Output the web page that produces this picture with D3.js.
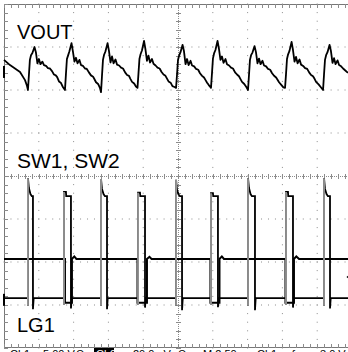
<!DOCTYPE html>
<html>
<head>
<meta charset="utf-8">
<script src="https://cdn.jsdelivr.net/npm/d3@7"></script>
<style>
  body { margin: 0; background: #fff; overflow: hidden; }
  svg { display: block; }
  text { font-family: "Liberation Sans", Arial, sans-serif; }
</style>
</head>
<body>
<div id="chart"></div>
<script>
// time in microseconds (2.50 us/div), levels in screen divisions (8 div tall)
const timeDomain = [0, 25]
const divDomain = [-4, 4]

// Ch2 output ripple (VOUT)
const voutTrace = [
    [0, 2.70], [0.43, 2.58], [1.15, 2.42], [1.51, 2.23], [1.65, 2.10],
    [1.72, 2.00], [1.79, 2.35], [1.86, 2.70], [1.94, 2.81], [2.04, 2.86], [2.19, 3.00], [2.29, 2.88], [2.40, 2.62], [2.51, 2.72], [2.62, 2.60], [2.76, 2.66], [2.87, 2.58], [3.02, 2.56], [3.16, 2.51], [3.30, 2.50], [3.45, 2.44], [3.59, 2.36], [3.72, 2.34], [3.82, 2.30], [3.95, 2.20], [4.08, 2.17], [4.23, 2.07],
    [4.38, 2.00], [4.45, 2.37], [4.52, 2.72], [4.60, 2.80], [4.70, 2.90], [4.85, 3.09], [4.95, 2.90], [5.06, 2.66], [5.17, 2.75], [5.28, 2.62], [5.42, 2.70], [5.53, 2.58], [5.68, 2.56], [5.82, 2.50], [5.95, 2.49], [6.10, 2.41], [6.25, 2.34], [6.40, 2.31], [6.50, 2.25], [6.61, 2.18], [6.76, 2.14], [6.89, 2.05],
    [6.97, 1.95], [7.04, 2.33], [7.11, 2.70], [7.19, 2.82], [7.29, 2.90], [7.44, 3.09], [7.54, 2.91], [7.65, 2.64], [7.76, 2.78], [7.87, 2.62], [8.01, 2.71], [8.12, 2.59], [8.27, 2.57], [8.41, 2.52], [8.55, 2.50], [8.70, 2.41], [8.84, 2.35], [8.98, 2.33], [9.08, 2.26], [9.20, 2.19], [9.35, 2.15], [9.48, 2.08],
    [9.59, 2.05], [9.66, 2.38], [9.73, 2.72], [9.81, 2.83], [9.91, 2.92], [10.06, 3.14], [10.16, 2.95], [10.27, 2.68], [10.38, 2.80], [10.49, 2.64], [10.63, 2.72], [10.74, 2.61], [10.89, 2.57], [11.03, 2.52], [11.18, 2.50], [11.32, 2.42], [11.46, 2.36], [11.60, 2.33], [11.70, 2.27], [11.82, 2.20], [11.97, 2.17], [12.10, 2.09], [12.25, 2.07],
    [12.36, 2.05], [12.43, 2.36], [12.50, 2.70], [12.58, 2.80], [12.68, 2.88], [12.83, 3.05], [12.93, 2.90], [13.04, 2.60], [13.15, 2.72], [13.26, 2.58], [13.40, 2.68], [13.51, 2.57], [13.66, 2.55], [13.80, 2.49], [13.95, 2.47], [14.08, 2.39], [14.23, 2.33], [14.37, 2.29], [14.48, 2.23], [14.59, 2.17], [14.70, 2.12], [14.80, 2.08],
    [14.87, 2.05], [14.94, 2.38], [15.01, 2.73], [15.09, 2.85], [15.19, 2.93], [15.34, 3.14], [15.44, 2.96], [15.55, 2.70], [15.66, 2.78], [15.77, 2.63], [15.91, 2.72], [16.02, 2.60], [16.17, 2.57], [16.31, 2.52], [16.45, 2.50], [16.60, 2.41], [16.74, 2.36], [16.88, 2.32], [16.98, 2.26], [17.10, 2.19], [17.26, 2.14], [17.41, 2.07],
    [17.53, 2.00], [17.60, 2.35], [17.67, 2.70], [17.75, 2.81], [17.85, 2.87], [18.00, 3.02], [18.10, 2.88], [18.21, 2.62], [18.32, 2.73], [18.43, 2.60], [18.57, 2.68], [18.68, 2.57], [18.83, 2.55], [18.97, 2.49], [19.12, 2.47], [19.26, 2.39], [19.40, 2.33], [19.55, 2.29], [19.65, 2.24], [19.76, 2.18], [19.92, 2.12], [20.07, 2.06],
    [20.19, 2.05], [20.26, 2.37], [20.33, 2.72], [20.41, 2.83], [20.51, 2.91], [20.66, 3.12], [20.76, 2.93], [20.87, 2.66], [20.98, 2.77], [21.09, 2.62], [21.23, 2.71], [21.34, 2.59], [21.49, 2.56], [21.63, 2.51], [21.78, 2.49], [21.92, 2.41], [22.06, 2.35], [22.20, 2.32], [22.31, 2.26], [22.42, 2.19], [22.60, 2.13], [22.75, 2.07],
    [22.92, 2.00], [22.99, 2.36], [23.06, 2.70], [23.14, 2.81], [23.24, 2.88], [23.39, 3.05], [23.49, 2.90], [23.60, 2.63], [23.71, 2.74], [23.82, 2.60], [23.96, 2.69], [24.07, 2.58], [24.22, 2.55], [24.36, 2.50], [24.50, 2.46], [24.71, 2.40]
]

// switch nodes SW1 / SW2 (overlaid)
const swTrace = [
    [0, -2.84],
    [1.72, -2.84], [1.72, -3.02], [1.72, -0.05], [1.79, -0.28], [1.90, -0.42], [2.00, -0.47], [2.08, -0.47], [2.08, -3.10], [2.13, -2.84],
    [4.31, -2.84], [4.31, -3.00], [4.31, -0.37], [4.45, -0.37], [4.47, -0.47], [4.81, -0.47], [4.81, -3.08], [4.86, -2.84],
    [6.97, -2.84], [6.97, -3.02], [6.97, -0.07], [7.04, -0.30], [7.15, -0.42], [7.25, -0.47], [7.40, -0.47], [7.40, -3.10], [7.45, -2.84],
    [9.63, -2.84], [9.63, -3.00], [9.63, -0.39], [9.77, -0.39], [9.79, -0.47], [10.13, -0.47], [10.13, -3.06], [10.18, -2.84],
    [12.36, -2.84], [12.36, -3.02], [12.36, -0.09], [12.43, -0.32], [12.54, -0.43], [12.64, -0.47], [12.79, -0.47], [12.79, -3.12], [12.84, -2.84],
    [14.87, -2.84], [14.87, -3.00], [14.87, -0.40], [15.01, -0.40], [15.03, -0.47], [15.37, -0.47], [15.37, -3.05], [15.42, -2.84],
    [17.53, -2.84], [17.53, -3.02], [17.53, -0.05], [17.60, -0.28], [17.71, -0.42], [17.81, -0.47], [18.03, -0.47], [18.03, -3.12], [18.08, -2.84],
    [20.26, -2.84], [20.26, -3.00], [20.26, -0.37], [20.40, -0.37], [20.42, -0.47], [20.76, -0.47], [20.76, -3.06], [20.81, -2.84],
    [22.99, -2.84], [22.99, -3.02], [22.99, -0.05], [23.06, -0.30], [23.17, -0.42], [23.27, -0.47], [23.42, -0.47], [23.42, -3.08], [23.47, -2.84],
    [25, -2.84]
]

// low side gate LG1
const lg1Trace = [
    [0, -1.93],
    [4.38, -1.93], [4.38, -2.95], [4.88, -2.95], [4.88, -1.93], [5.05, -1.87], [5.20, -1.93],
    [9.59, -1.93], [9.59, -2.95], [10.27, -2.95], [10.27, -1.93], [10.45, -1.88], [10.60, -1.93],
    [14.83, -1.93], [14.83, -2.95], [15.48, -2.95], [15.48, -1.93], [15.65, -1.87], [15.80, -1.93],
    [20.22, -1.93], [20.22, -2.95], [20.83, -2.95], [20.83, -1.93], [21.00, -1.87], [21.20, -1.93],
    [25, -1.93]
]

const traceLabels = ['VOUT', 'SW1, SW2', 'LG1']
const statusLabels = ['Ch1', '5.00 V', '\u03A9', 'Ch2', '20.0mV', '\u03A9', 'M 2.50\u00B5s', 'Ch1', '\u0192', '3.0 V']
const triggerLevel = -2.35
const groundMarks = [2.42, -2.88]

const width = 348
const height = 352
const gridColor = '#8c8c8c'

const svg = d3.select('#chart')
    .append('svg')
    .attr('width', width)
    .attr('height', height)

const x = d3.scaleLinear().domain(timeDomain).range([4, 352])
const y = d3.scaleLinear().domain(divDomain).range([348, 4])

// graticule
const grid = svg.append('g')
const majorT = d3.range(1, 10).map(k => k * 2.5).filter(t => t !== 12.5)
const majorV = [-3, -2, -1, 1, 2, 3]
const minorT = d3.range(0, 25.01, 0.5)
const minorV = d3.range(-4, 4.01, 0.2)

majorT.forEach(t => {
    grid.selectAll(null)
        .data(minorV)
        .join('rect')
        .attr('x', x(t) - 0.5)
        .attr('y', d => y(d) - 0.5)
        .attr('width', 1)
        .attr('height', 1)
        .attr('fill', gridColor)
})
majorV.forEach(v => {
    grid.selectAll(null)
        .data(minorT)
        .join('rect')
        .attr('x', d => x(d) - 0.5)
        .attr('y', y(v) - 0.5)
        .attr('width', 1)
        .attr('height', 1)
        .attr('fill', gridColor)
})

// center axes
grid.append('line')
    .attr('x1', x(0)).attr('x2', x(25))
    .attr('y1', y(0) + 0.5).attr('y2', y(0) + 0.5)
    .attr('stroke', gridColor).attr('stroke-dasharray', '1,1')
grid.append('line')
    .attr('x1', x(12.5) + 0.5).attr('x2', x(12.5) + 0.5)
    .attr('y1', y(4)).attr('y2', y(-4))
    .attr('stroke', gridColor).attr('stroke-dasharray', '1,1')
grid.selectAll('.ctick-x')
    .data(minorT)
    .join('line')
    .attr('x1', d => Math.round(x(d)) + 0.5).attr('x2', d => Math.round(x(d)) + 0.5)
    .attr('y1', y(0) - 2).attr('y2', y(0) + 3)
    .attr('stroke', gridColor)
grid.selectAll('.ctick-y')
    .data(minorV)
    .join('line')
    .attr('x1', x(12.5) - 2).attr('x2', x(12.5) + 3)
    .attr('y1', d => Math.round(y(d)) + 0.5).attr('y2', d => Math.round(y(d)) + 0.5)
    .attr('stroke', gridColor)

// frame with inward ticks
grid.append('line')
    .attr('x1', x(0)).attr('x2', x(25))
    .attr('y1', y(4) + 0.5).attr('y2', y(4) + 0.5)
    .attr('stroke', '#777')
grid.append('line')
    .attr('x1', x(0)).attr('x2', x(25))
    .attr('y1', y(-4) - 0.5).attr('y2', y(-4) - 0.5)
    .attr('stroke', '#777')
grid.append('line')
    .attr('x1', x(0) + 0.5).attr('x2', x(0) + 0.5)
    .attr('y1', y(4)).attr('y2', y(-4))
    .attr('stroke', '#777')
grid.selectAll('.ftick-top')
    .data(minorT)
    .join('line')
    .attr('x1', d => Math.round(x(d)) + 0.5).attr('x2', d => Math.round(x(d)) + 0.5)
    .attr('y1', y(4)).attr('y2', y(4) + 4)
    .attr('stroke', gridColor)
grid.selectAll('.ftick-bottom')
    .data(minorT)
    .join('line')
    .attr('x1', d => Math.round(x(d)) + 0.5).attr('x2', d => Math.round(x(d)) + 0.5)
    .attr('y1', y(-4) - 4).attr('y2', y(-4))
    .attr('stroke', gridColor)
grid.selectAll('.ftick-left')
    .data(minorV)
    .join('line')
    .attr('x1', x(0)).attr('x2', x(0) + 4)
    .attr('y1', d => Math.round(y(d)) + 0.5).attr('y2', d => Math.round(y(d)) + 0.5)
    .attr('stroke', gridColor)

// traces
const line = d3.line().x(d => x(d[0])).y(d => y(d[1]))

svg.append('path')
    .datum(lg1Trace)
    .attr('d', line)
    .attr('fill', 'none')
    .attr('stroke', '#000')
    .attr('stroke-width', 2)

svg.append('path')
    .datum(swTrace)
    .attr('d', line)
    .attr('fill', 'none')
    .attr('stroke', '#000')
    .attr('stroke-width', 1.8)

// fast rising edges show up dimmer on the scope
const risingEdges = d3.pairs(swTrace).filter(([a, b]) => a[0] === b[0] && b[1] - a[1] > 1)
svg.selectAll('.edge')
    .data(risingEdges)
    .join('line')
    .attr('x1', d => x(d[0][0])).attr('x2', d => x(d[1][0]))
    .attr('y1', d => y(d[0][1])).attr('y2', d => y(d[1][1]))
    .attr('stroke', '#9a9a9a')
    .attr('stroke-width', 1.8)

svg.append('path')
    .datum(voutTrace)
    .attr('d', line)
    .attr('fill', 'none')
    .attr('stroke', '#000')
    .attr('stroke-width', 1.8)
    .attr('stroke-linejoin', 'round')

// markers
svg.append('path')
    .attr('d', `M${x(24.6)},${y(triggerLevel)} l5,-4 v8 z`)
    .attr('fill', '#000')
svg.selectAll('.gnd')
    .data(groundMarks)
    .join('rect')
    .attr('x', 3)
    .attr('y', d => y(d) - 6)
    .attr('width', 2)
    .attr('height', 12)
    .attr('fill', '#000')

// trace labels
const labelPos = [[17, 39, 20], [17, 168, 21], [17, 332, 20]]
svg.selectAll('.trace-label')
    .data(traceLabels)
    .join('text')
    .attr('x', (d, i) => labelPos[i][0])
    .attr('y', (d, i) => labelPos[i][1])
    .attr('font-size', (d, i) => labelPos[i][2])
    .attr('fill', '#000')
    .text(d => d)

// status bar along the bottom (cut off by the frame edge, as in the capture)
const statusX = [10, 43, 76, 96, 133, 178, 203, 257, 290, 320]
svg.append('rect')
    .attr('x', 94).attr('y', 348)
    .attr('width', 20).attr('height', 10)
    .attr('fill', '#000')
svg.selectAll('.status')
    .data(statusLabels)
    .join('text')
    .attr('x', (d, i) => statusX[i])
    .attr('y', 358)
    .attr('font-size', 11)
    .attr('fill', (d, i) => i === 3 ? '#fff' : '#000')
    .text(d => d)
</script>
</body>
</html>
